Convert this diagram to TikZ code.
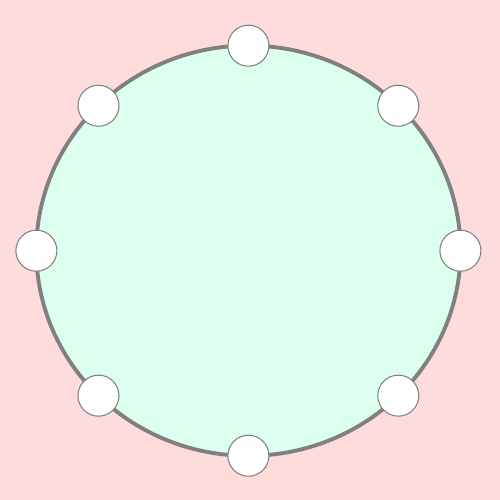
\documentclass[tikz,border=0pt]{standalone}
\usepackage{tikz}
\usetikzlibrary{shapes.geometric, calc}
\definecolor{cBack}{RGB}{255,220,220}
\definecolor{cMint}{RGB}{220,255,240}
\definecolor{cRim}{RGB}{128,128,128}
\tikzset{
	ring/.style ={ellipse, draw=cRim, line width=1.1pt, fill=cMint, minimum width=4.24cm, minimum height=4.1cm, inner sep=0pt},
	seat/.style ={circle, draw=cRim, line width=0.3pt, fill=white, minimum size=0.41cm, inner sep=0pt},
}
\begin{document}
\begin{tikzpicture}[x=0.01cm, y=-0.01cm]
	\fill[cBack] (0,0) rectangle (500,500);
	\useasboundingbox (0,0) rectangle (500,500);
	\node[ring] (table) at (248.4,250.7) {};
	\foreach \a [count=\i] in {90,45,0,-45,-90,-135,180,135}
		\node[seat] (s\i) at ($(table.center)+({212*cos(\a)},{-205*sin(\a)})$) {};
\end{tikzpicture}
\end{document}
